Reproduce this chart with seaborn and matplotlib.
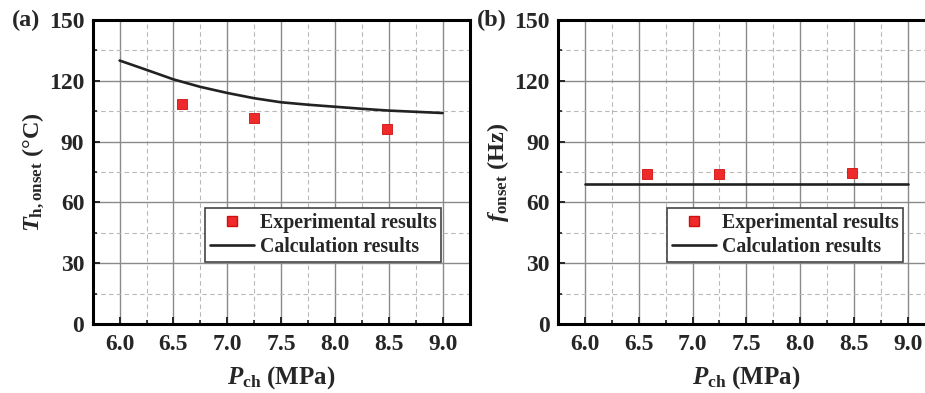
import numpy as np
import pandas as pd
import matplotlib
matplotlib.use("Agg")
import matplotlib.pyplot as plt
import seaborn as sns
from matplotlib.ticker import MultipleLocator
from matplotlib.lines import Line2D

# ---- data ----
p_calc = [6.0, 6.25, 6.5, 6.75, 7.0, 7.25, 7.5, 7.75, 8.0, 8.25, 8.5, 8.75, 9.0]
t_calc = [130.0, 125.4, 120.7, 117.0, 114.0, 111.4, 109.4, 108.2, 107.2, 106.2, 105.3, 104.7, 104.1]
p_exp = [6.58, 7.25, 8.48]
t_exp = [108.4, 101.5, 96.4]
f_calc_p = [6.0, 9.0]
f_calc = [68.9, 68.9]
f_exp = [73.9, 73.9, 74.4]

xticks = [6.0, 6.5, 7.0, 7.5, 8.0, 8.5, 9.0]
yticks = [0, 30, 60, 90, 120, 150]

sns.set_style("white")
plt.rcParams["font.family"] = ["Liberation Serif", "DejaVu Serif"]
plt.rcParams["font.weight"] = "bold"
plt.rcParams["mathtext.fontset"] = "custom"
plt.rcParams["mathtext.rm"] = "Liberation Serif:bold"
plt.rcParams["mathtext.it"] = "Liberation Serif:italic:bold"
plt.rcParams["mathtext.bf"] = "Liberation Serif:bold"

W, H = 925, 393
fig = plt.figure(figsize=(W / 100, H / 100), dpi=100)

def pos(x0, x1, y0, y1):
    return [x0 / W, 1 - y1 / H, (x1 - x0) / W, (y1 - y0) / H]

ax1 = fig.add_axes(pos(92.7, 469.5, 20, 324))
ax2 = fig.add_axes(pos(558, 934.8, 20, 324))

df_calc = pd.DataFrame({"P": p_calc, "T": t_calc})
df_exp = pd.DataFrame({"P": p_exp, "T": t_exp, "f": f_exp})
df_fc = pd.DataFrame({"P": f_calc_p, "f": f_calc})

def style(ax, ylabel, tag):
    ax.set_xlim(5.75, 9.25)
    ax.set_ylim(0, 150)
    ax.xaxis.set_major_locator(MultipleLocator(0.5))
    ax.xaxis.set_minor_locator(MultipleLocator(0.25))
    ax.yaxis.set_major_locator(MultipleLocator(30))
    ax.yaxis.set_minor_locator(MultipleLocator(15))
    ax.grid(which="major", color="#8a8a8a", linestyle="-", linewidth=1.0, zorder=0)
    ax.grid(which="minor", color="#b8b8b8", linestyle=(0, (4, 3)), linewidth=0.8, zorder=0)
    ax.set_axisbelow(True)
    ax.set_xticks(xticks)
    ax.set_xticklabels([f"{v:.1f}" for v in xticks])
    ax.set_yticks(yticks)
    ax.set_yticklabels([str(v) for v in yticks])
    ax.tick_params(axis="both", which="major", direction="in", length=5, width=1.4,
                   labelsize=17, pad=6, bottom=True, left=True, top=False, right=False)
    ax.tick_params(axis="x", which="major", pad=7)
    ax.tick_params(axis="both", which="minor", direction="in", length=3, width=1.2,
                   bottom=True, left=True, top=False, right=False)
    for lab in ax.get_xticklabels() + ax.get_yticklabels():
        lab.set_fontweight("bold")
    for s in ax.spines.values():
        s.set_visible(True)
        s.set_color("black")
        s.set_linewidth(2.2)
    ax.set_xlabel(r"$P_{\mathrm{ch}}$ (MPa)", fontsize=18, fontweight="bold", labelpad=6.5)
    ax.set_ylabel(ylabel, fontsize=17.5, fontweight="bold", labelpad=2)
    ax.text(-0.215, 1.0, tag, transform=ax.transAxes, fontsize=17.5, fontweight="bold",
            ha="left", va="center")

sns.lineplot(data=df_calc, x="P", y="T", ax=ax1, color="#222222", linewidth=1.9,
             legend=False, zorder=3)
sns.scatterplot(data=df_exp, x="P", y="T", ax=ax1, marker="s", s=60, color="#ee2a2a",
                edgecolor="#d01010", linewidth=0.6, legend=False, zorder=4)
style(ax1, r"$T_{\mathrm{h,onset}}$ (°C)", "(a)")

sns.lineplot(data=df_fc, x="P", y="f", ax=ax2, color="#222222", linewidth=1.9,
             legend=False, zorder=3)
sns.scatterplot(data=df_exp, x="P", y="f", ax=ax2, marker="s", s=60, color="#ee2a2a",
                edgecolor="#d01010", linewidth=0.6, legend=False, zorder=4)
style(ax2, r"$f_{\mathrm{onset}}$ (Hz)", "(b)")

handles = [Line2D([], [], marker="s", linestyle="none", color="#ee2a2a", markersize=7,
                  markeredgecolor="#d01010"),
           Line2D([], [], color="#222222", linewidth=1.9)]
labels = ["Experimental results", "Calculation results"]
for ax, bx in ((ax1, 0.298), (ax2, 0.289)):
    leg = ax.legend(handles, labels, loc="upper left", bbox_to_anchor=(bx, 0.382),
                    frameon=True, fancybox=False, framealpha=1, edgecolor="#444444",
                    prop={"family": "Liberation Serif", "weight": "bold", "size": 14.3},
                    handlelength=2.2, handletextpad=0.3, borderpad=0.25,
                    labelspacing=0.2, borderaxespad=0)
    leg.get_frame().set_linewidth(1.2)

fig.savefig("out.png", dpi=100)
